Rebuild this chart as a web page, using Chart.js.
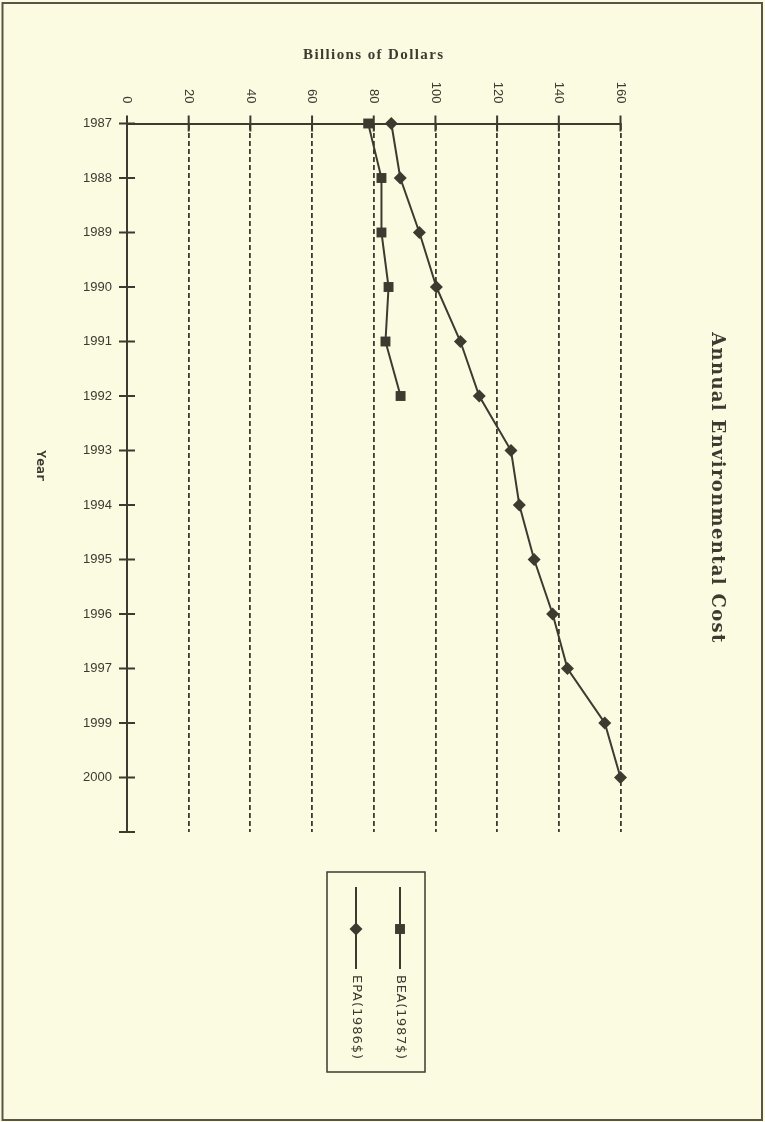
<!DOCTYPE html>
<html>
<head>
<meta charset="utf-8">
<script src="https://cdn.jsdelivr.net/npm/chart.js@4.4.0/dist/chart.umd.min.js"></script>
<style>
  html, body { margin: 0; padding: 0; background: #fbfbe2; }
  canvas { display: block; }
</style>
</head>
<body>
<canvas id="myChart" width="765" height="1122"></canvas>
<script>
// years on the category axis, last slot is the empty tick below 2000
const years = ['1987', '1988', '1989', '1990', '1991', '1992', '1993', '1994', '1995', '1996', '1997', '1999', '2000', ''];
const beaValues = [78.2, 82.5, 82.5, 84.8, 83.8, 88.7];
const epaValues = [85.7, 88.6, 94.8, 100.3, 108.1, 114.2, 124.5, 127.2, 132.0, 138.0, 142.8, 154.9, 160];
const seriesNames = ['BEA(1987$)', 'EPA(1986$)'];
const valueMin = 0;
const valueMax = 160;
const valueStep = 20;

const ink = '#3d3a30';
const paper = '#fbfbe2';

// text squeezed or spread to a given length
function fitText(ctx, text, x, y, length) {
    const w = ctx.measureText(text).width;
    ctx.letterSpacing = ((length - w) / (text.length - 1)).toFixed(2) + 'px';
    ctx.fillText(text, x, y);
    ctx.letterSpacing = '0px';
}

// draws the pieces Chart.js has no option for: rotated texts, crossing ticks, legend, page frame
const pagePlugin = {
    id: 'page',
    beforeDraw(chart) {
        const ctx = chart.ctx;
        ctx.save();
        ctx.fillStyle = paper;
        ctx.fillRect(0, 0, chart.width, chart.height);
        ctx.restore();
    },
    afterDraw(chart) {
        const ctx = chart.ctx;
        const xs = chart.scales.x;
        const ys = chart.scales.y;
        const area = chart.chartArea;

        ctx.save();
        ctx.strokeStyle = ink;
        ctx.fillStyle = ink;
        ctx.lineWidth = 2;

        // tick marks crossing both axes
        ctx.beginPath();
        xs.ticks.forEach(t => {
            const px = xs.getPixelForValue(t.value);
            ctx.moveTo(px, area.top - 8);
            ctx.lineTo(px, area.top + 8);
        });
        ys.ticks.forEach((t, i) => {
            const py = ys.getPixelForTick(i);
            ctx.moveTo(area.left - 8, py);
            ctx.lineTo(area.left + 8, py);
        });
        ctx.stroke();

        // value tick labels, turned clockwise
        ctx.font = '13px "Liberation Sans"';
        ctx.textAlign = 'right';
        ctx.textBaseline = 'middle';
        xs.ticks.forEach(t => {
            const px = xs.getPixelForValue(t.value);
            ctx.save();
            ctx.translate(px, area.top - 20);
            ctx.rotate(Math.PI / 2);
            ctx.fillText(t.label, 0, 0);
            ctx.restore();
        });

        // value axis title
        ctx.font = 'bold 15px "Liberation Serif"';
        ctx.textAlign = 'center';
        fitText(ctx, 'Billions of Dollars', (area.left + area.right) / 2, 55, 140);

        // category axis title
        ctx.save();
        ctx.translate(40, 466);
        ctx.rotate(Math.PI / 2);
        ctx.font = 'bold 13px "DejaVu Sans Mono"';
        ctx.fillText('Year', 0, 0);
        ctx.restore();

        // chart title
        ctx.save();
        ctx.translate(717, 488);
        ctx.rotate(Math.PI / 2);
        ctx.font = 'bold 18px "DejaVu Serif"';
        fitText(ctx, 'Annual Environmental Cost', 0, 0, 310);
        ctx.restore();

        // legend box
        ctx.lineWidth = 1.5;
        ctx.strokeRect(327, 872, 98, 200);
        const cols = [400, 356];
        chart.data.datasets.forEach((ds, i) => {
            const cx = cols[i];
            ctx.lineWidth = 2;
            ctx.beginPath();
            ctx.moveTo(cx, 887);
            ctx.lineTo(cx, 969);
            ctx.stroke();
            const r = ds.pointRadius;
            ctx.beginPath();
            if (ds.pointStyle === 'rect') {
                const s = r * Math.SQRT1_2;
                ctx.rect(cx - s, 929 - s, 2 * s, 2 * s);
            } else {
                ctx.moveTo(cx, 929 - r);
                ctx.lineTo(cx + r, 929);
                ctx.lineTo(cx, 929 + r);
                ctx.lineTo(cx - r, 929);
                ctx.closePath();
            }
            ctx.fill();
            ctx.save();
            ctx.translate(cx, 975);
            ctx.rotate(Math.PI / 2);
            ctx.font = '13px "DejaVu Sans"';
            ctx.textAlign = 'left';
            fitText(ctx, ds.label, 0, 0, 84);
            ctx.restore();
        });

        // page frame
        ctx.strokeStyle = '#5a5446';
        ctx.lineWidth = 2;
        ctx.strokeRect(2.5, 3, 759.5, 1117);
        ctx.restore();
    }
};

const ctx = document.getElementById('myChart').getContext('2d');

new Chart(ctx, {
    type: 'line',
    data: {
        labels: years,
        datasets: [
            {
                label: seriesNames[0],
                data: beaValues,
                borderColor: ink,
                backgroundColor: ink,
                borderWidth: 2,
                pointStyle: 'rect',
                pointRadius: 7,
                pointBorderWidth: 0,
                clip: false,
            },
            {
                label: seriesNames[1],
                data: epaValues,
                borderColor: ink,
                backgroundColor: ink,
                borderWidth: 2,
                pointStyle: 'rectRot',
                pointRadius: 6.5,
                pointBorderWidth: 0,
                clip: false,
            }
        ]
    },
    options: {
        indexAxis: 'y',
        responsive: false,
        animation: false,
        layout: {
            padding: { left: 0, top: 0, right: 144.5, bottom: 290 }
        },
        plugins: {
            legend: { display: false },
            tooltip: { enabled: false },
        },
        scales: {
            x: {
                type: 'linear',
                position: 'top',
                min: valueMin,
                max: valueMax,
                ticks: { stepSize: valueStep, display: false },
                grid: {
                    color: c => (c.tick && c.tick.value === 0) ? 'transparent' : ink,
                    lineWidth: 1.8,
                    drawTicks: false,
                },
                border: { display: true, color: ink, width: 2, dash: [5, 3] },
                afterFit: s => { s.height = 123.5; }
            },
            y: {
                type: 'category',
                offset: false,
                ticks: {
                    autoSkip: false,
                    padding: 15,
                    color: ink,
                    font: { family: '"Liberation Sans"', size: 13 },
                },
                grid: { drawOnChartArea: false, drawTicks: false },
                border: { display: true, color: ink, width: 2 },
                afterFit: s => { s.width = 127; }
            }
        }
    },
    plugins: [pagePlugin]
});
</script>
</body>
</html>
